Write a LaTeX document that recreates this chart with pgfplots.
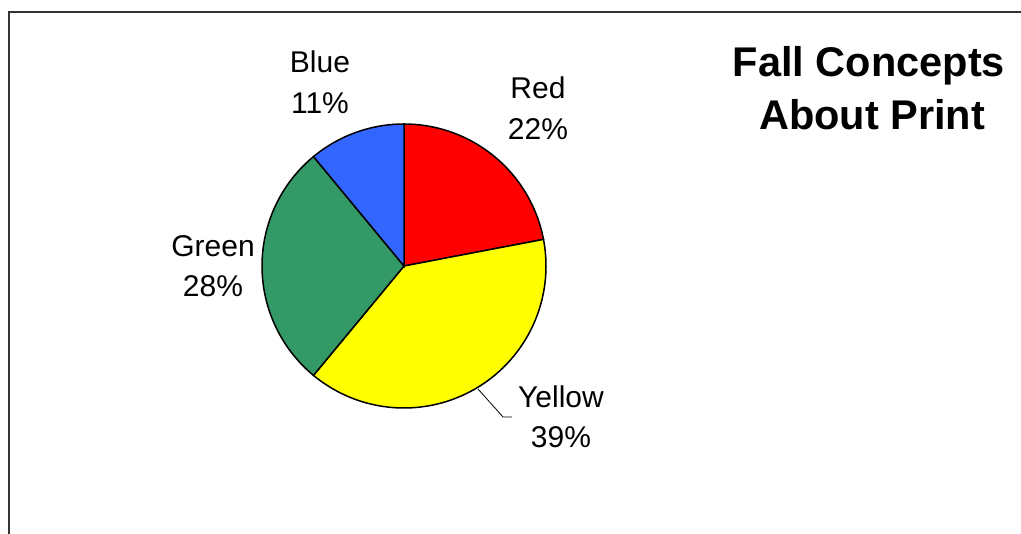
\documentclass[border=0pt]{standalone}
\usepackage{pgfplots}
\pgfplotsset{compat=1.18}
\usepackage{fontspec}
\setmainfont{Liberation Sans}
\definecolor{pRed}{HTML}{FF0000}
\definecolor{pYellow}{HTML}{FFFF00}
\definecolor{pGreen}{HTML}{339966}
\definecolor{pBlue}{HTML}{3366FF}
% percentages
\def\vRed{22}\def\vYellow{39}\def\vGreen{28}\def\vBlue{11}
\pgfmathsetmacro{\aA}{90}
\pgfmathsetmacro{\aB}{\aA-3.6*\vRed}
\pgfmathsetmacro{\aC}{\aB-3.6*\vYellow}
\pgfmathsetmacro{\aD}{\aC-3.6*\vGreen}
\pgfmathsetmacro{\aE}{\aD-3.6*\vBlue}
\tikzset{lab/.style={font=\fontsize{15pt}{18pt}\selectfont, anchor=base, inner sep=0pt},
  ttl/.style={font=\fontsize{20.75pt}{24pt}\selectfont\bfseries, anchor=base, inner sep=0pt}}
\begin{document}
\begin{tikzpicture}
\begin{axis}[
  scale only axis, width=510.5pt, height=267pt,
  xmin=0, xmax=1021, ymin=-534, ymax=0,
  axis lines=none, clip=false,
]
\coordinate (bl) at (0,-534);
\coordinate (tr) at (1021,0);
% frame
\addplot[black!80, line width=0.9pt] coordinates {(9,-534) (9,-12) (1021,-12)};
% wedges
\addplot[fill=pRed, draw=black, line width=0.75pt, domain=\aB:\aA, samples=60, variable=\t]
  ({404+142*cos(t)},{-266+142*sin(t)}) -- (404,-266) -- cycle;
\addplot[fill=pYellow, draw=black, line width=0.75pt, domain=\aC:\aB, samples=90, variable=\t]
  ({404+142*cos(t)},{-266+142*sin(t)}) -- (404,-266) -- cycle;
\addplot[fill=pGreen, draw=black, line width=0.75pt, domain=\aD:\aC, samples=70, variable=\t]
  ({404+142*cos(t)},{-266+142*sin(t)}) -- (404,-266) -- cycle;
\addplot[fill=pBlue, draw=black, line width=0.75pt, domain=\aE:\aD, samples=40, variable=\t]
  ({404+142*cos(t)},{-266+142*sin(t)}) -- (404,-266) -- cycle;
% leader line
\addplot[black, line width=0.4pt] coordinates {(478,-389) (503,-417) (512,-417)};
% labels
\node[lab] at (320,-73) {Blue};
\node[lab] at (320,-114) {11\%};
\node[lab] at (538,-99) {Red};
\node[lab] at (538,-140) {22\%};
\node[lab] at (213,-257) {Green};
\node[lab] at (213,-297) {28\%};
\node[lab] at (561,-408) {Yellow};
\node[lab] at (561,-448) {39\%};
% title
\node[ttl] at (869,-77) {Fall Concepts};
\node[ttl] at (872,-130) {About Print};
\end{axis}
\pgfresetboundingbox
\useasboundingbox (bl) rectangle (tr);
\end{tikzpicture}
\end{document}
